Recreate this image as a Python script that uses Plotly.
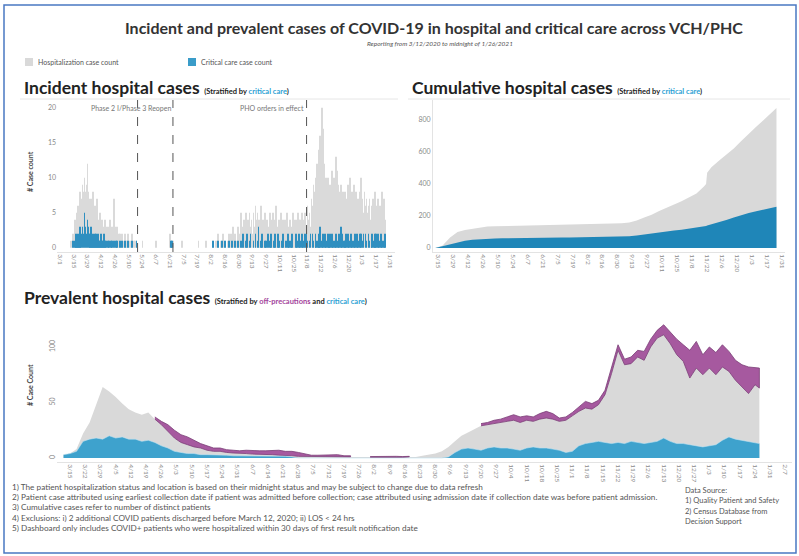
import pandas as pd
import plotly.graph_objects as go

W, H = 799, 556
def px(x): return x / W
def py(y): return 1 - y / H

# ---------------- DATA ----------------
# Incident hospital cases, daily 2020-03-12 .. 2021-01-26
inc_hosp_mar = [1,0,2,1,4,3,5,6,4,8,6,7,9,8,10,8,9,12,8,7]
inc_hosp_apr = [6,7,5,8,4,6,5,7,4,3,5,2,4,3,2,4,3,2,3,2,4,2,3,2,7,3,2,3,1,2]
inc_hosp_may = [2,1,2,1,0,2,1,1,2,1,0,1,2,0,1,1,0,1,0,0,0,0,0,1,0,0,0,0,0,0,0]
inc_hosp_jun = [0,0,0,0,0,0,1,0,0,0,0,0,0,0,0,0,0,0,0,0,2,1,0,1,0,0,0,0,0,0]
inc_hosp_jul = [0,0,1,0,0,0,0,0,0,0,0,0,0,0,0,0,0,0,0,1,0,0,0,0,0,0,0,1,0,0,0]
inc_hosp_aug = [0,0,0,1,0,0,1,0,2,0,0,1,0,2,0,1,0,0,1,2,0,2,0,3,0,2,0,1,3,2,0]
inc_hosp_sep = [5,3,2,4,3,5,2,4,3,5,3,4,2,5,3,6,4,5,3,4,2,6,3,4,3,5,2,4,3,2]
inc_hosp_oct = [5,4,2,5,3,4,6,3,2,4,3,5,2,4,3,4,3,5,2,3,4,2,3,5,4,2,4,3,5,4,4]
inc_hosp_nov = [3,5,4,3,5,4,3,6,4,5,3,7,6,9,8,10,9,12,11,14,16,15,20,17,12,9,10,8,10,7]
inc_hosp_dec = [9,8,11,9,10,8,13,11,9,8,7,9,6,8,7,8,6,7,9,7,10,6,8,7,9,6,8,5,7,6,8]
inc_hosp_jan = [10,6,7,5,8,6,7,5,6,7,4,6,5,7,5,8,6,4,7,5,6,4,8,5,7,4]

inc_crit_mar = [0,0,1,0,1,2,1,2,1,3,2,2,3,2,5,3,2,4,3,2]
inc_crit_apr = [2,3,1,2,1,2,2,1,2,1,1,2,1,1,2,1,1,0,1,1,0,1,1,0,1,0,1,1,0,0]
inc_crit_may = [1,0,1,0,0,1,0,0,1,0,0,0,1,0,0,0,0,1,0,0,0,0,0,0,0,0,0,0,0,0,0]
inc_crit_jun = [0,0,0,0,0,0,0,0,0,0,0,0,0,0,0,0,0,0,0,0,0,1,1,0,0,0,0,0,0,0]
inc_crit_jul = [0,0,0,0,0,0,0,0,0,0,0,0,0,0,0,0,0,0,0,0,0,0,0,0,0,0,0,0,0,0,0]
inc_crit_aug = [0,0,0,1,0,0,0,0,1,0,0,0,1,0,0,1,0,0,0,1,0,0,1,0,0,1,0,0,1,0,0]
inc_crit_sep = [1,0,2,0,0,1,2,0,0,1,2,0,0,1,0,2,0,1,3,0,0,1,2,0,0,1,1,0,2,0]
inc_crit_oct = [1,2,0,0,1,2,0,0,2,1,0,0,1,2,0,0,1,0,2,1,0,1,2,0,0,0,2,1,0,2,1]
inc_crit_nov = [0,2,1,0,2,0,2,1,0,1,2,0,2,1,0,2,1,0,1,2,3,0,1,2,0,2,1,0,2,1]
inc_crit_dec = [2,0,2,1,0,1,2,0,1,2,0,3,2,0,1,1,2,0,2,1,0,2,1,0,1,2,0,2,1,0,2]
inc_crit_jan = [2,0,1,2,0,2,1,0,2,1,0,1,2,0,1,2,2,0,2,1,0,2,1,0,1,2]

inc_hosp = (inc_hosp_mar + inc_hosp_apr + inc_hosp_may + inc_hosp_jun + inc_hosp_jul + inc_hosp_aug
            + inc_hosp_sep + inc_hosp_oct + inc_hosp_nov + inc_hosp_dec + inc_hosp_jan)
inc_crit = (inc_crit_mar + inc_crit_apr + inc_crit_may + inc_crit_jun + inc_crit_jul + inc_crit_aug
            + inc_crit_sep + inc_crit_oct + inc_crit_nov + inc_crit_dec + inc_crit_jan)
inc_dates = pd.date_range("2020-03-12", periods=len(inc_hosp), freq="D")

# Cumulative hospital cases
cum_dates = ["2020-03-12","2020-03-19","2020-03-26","2020-04-02","2020-04-09","2020-04-16","2020-04-23",
             "2020-04-30","2020-05-07","2020-05-14","2020-05-21","2020-05-28","2020-06-04","2020-06-11",
             "2020-06-18","2020-06-25","2020-07-02","2020-07-09","2020-07-16","2020-07-23","2020-07-30",
             "2020-08-06","2020-08-13","2020-08-20","2020-08-27","2020-09-03","2020-09-10","2020-09-17",
             "2020-09-24","2020-10-01","2020-10-08","2020-10-15","2020-10-22","2020-10-29","2020-11-05",
             "2020-11-12","2020-11-19","2020-11-21","2020-11-22","2020-11-26","2020-12-03","2020-12-10",
             "2020-12-17","2020-12-24","2020-12-31","2021-01-07","2021-01-14","2021-01-21","2021-01-26"]
cum_hosp = [0,15,65,100,113,121,128,134,136,137,138,139,139,140,141,142,143,143,144,144,145,
            146,147,149,151,154,160,172,190,208,232,254,272,292,315,340,385,400,470,505,545,582,
            622,668,715,758,800,845,875]
cum_crit = [0,12,22,38,46,52,56,58,60,61,62,62,63,63,64,65,65,65,65,66,66,
            67,67,68,69,70,73,78,85,92,98,104,109,114,120,127,135,138,140,147,160,175,
            190,205,218,230,240,250,258]

# Prevalent hospital cases (every 3 days from 2020-03-12, last point 2021-01-26)
prev_hosp = [3,4,8,22,32,48,64,60,55,49,
             44,41,39,41,35,30,24,18,14,12,
             10,9,7,6,6,5,4.5,4,4,3.5,
             3,3,3,2.5,2,2,1.5,1.5,1,1,
             1,1,1,1,1,0.5,0.5,0.5,0.5,0.5,
             0.5,0.5,0.5,1,1,2,3,4,6,10,
             15,20,23,26,29,30,31,32,33,34,
             32,34,33,35,36,35,33,34,38,42,
             45,44,48,57,76,97,84,85,91,88,
             100,108,111,103,93,87,72,81,75,81,
             75,82,78,70,64,58,66,
             63]
prev_crit = [3,4,6,15,17,18,17,20,18,19,
             17,17,15,16,14,11,9,6,5,4,
             4,3,3,3,2.5,2.5,2,2,2,2,
             2,2,1.5,1.5,1.5,1,0,0,0,0,
             0,0,0,0,0,0,0,0,0,0,
             0,0,0,0,0,0,0,0,0,1,
             5,8,9,8,7,9,10,9,9,8,
             7,9,10,9,9,8,7,5,6,11,
             13,14,15,14,13,14,13,15,14,13,
             14,15,18,15,13,13,12,11,10,11,
             12,16,19,17,16,15,14,
             13]
prev_offprec = [None,None,None,None,None,None,None,None,None,None,
                None,None,None,None,2,3,6,7,7,7,
                6,4,4,3,3,2.5,2.5,2.5,3,3,
                3.5,3.5,4,4.5,4,4,3.5,2.5,1.5,1.5,
                1.5,2,2,1,1,None,None,0.8,1,1,
                1,1,0.8,0.5,None,None,None,None,None,None,
                None,None,None,None,2,2,3,3,4,5,
                5,4,4,5,6,5,3,3,3,4,
                6,5,4,4,5,5,5,6,6,8,
                7,7,9,10,14,15,25,24,18,19,
                20,20,18,18,20,24,15,
                18]
prev_dates = list(pd.date_range("2020-03-12", periods=len(prev_hosp) - 1, freq="3D")) + [pd.Timestamp("2021-01-26")]

phase_lines = ["2020-05-19", "2020-06-24", "2020-11-07"]

inc_ticks = pd.date_range("2020-03-01", "2021-01-31", freq="14D")
cum_ticks = pd.date_range("2020-03-15", "2021-01-31", freq="14D")
prev_ticks = pd.date_range("2020-03-15", "2021-02-07", freq="7D")
def lab(ds): return [f"{d.month}/{d.day}" for d in ds]

# ---------------- COLOURS ----------------
GRAY = "#d9d9d9"
BLUE = "#1f86b8"
BLUE_L = "#3ea2cd"
PURPLE = "#a6599f"
PURPLE_D = "#7a3d76"
TICK = "#8a8a8a"
FONT = "Lato"

fig = go.Figure()

# Incident bars
fig.add_trace(go.Bar(x=inc_dates, y=inc_hosp, marker=dict(color="#dadada", line=dict(width=0)),
                     xaxis="x", yaxis="y", showlegend=False))
fig.add_trace(go.Bar(x=inc_dates, y=inc_crit, marker=dict(color="#2f8fc0", line=dict(width=0)),
                     xaxis="x", yaxis="y", showlegend=False))

# Cumulative areas
fig.add_trace(go.Scatter(x=cum_dates, y=cum_hosp, mode="lines", fill="tozeroy", fillcolor=GRAY,
                         line=dict(width=0, color=GRAY), xaxis="x2", yaxis="y2", showlegend=False))
fig.add_trace(go.Scatter(x=cum_dates, y=cum_crit, mode="lines", fill="tozeroy", fillcolor=BLUE,
                         line=dict(width=0, color=BLUE), xaxis="x2", yaxis="y2", showlegend=False))

# Prevalent areas
fig.add_trace(go.Scatter(x=prev_dates, y=prev_hosp, mode="lines", fill="tozeroy", fillcolor=GRAY,
                         line=dict(width=0, color=GRAY), xaxis="x3", yaxis="y3", showlegend=False))
# off-precautions band drawn on top of the hospital area, one polygon per contiguous run
runs, cur = [], []
for i, v in enumerate(prev_offprec):
    if v is None:
        if cur: runs.append(cur); cur = []
    else:
        cur.append(i)
if cur: runs.append(cur)
for r in runs:
    xs = [prev_dates[i] for i in r] + [prev_dates[i] for i in reversed(r)]
    ys = [prev_hosp[i] + prev_offprec[i] for i in r] + [prev_hosp[i] for i in reversed(r)]
    fig.add_trace(go.Scatter(x=xs, y=ys, mode="lines", fill="toself", fillcolor=PURPLE,
                             line=dict(width=0.8, color=PURPLE_D), xaxis="x3", yaxis="y3", showlegend=False))
fig.add_trace(go.Scatter(x=prev_dates, y=prev_crit, mode="lines", fill="tozeroy", fillcolor=BLUE_L,
                         line=dict(width=0.6, color="#bfe3f2"), xaxis="x3", yaxis="y3", showlegend=False))

tickfont = dict(family=FONT, size=6.5, color=TICK)
common_x = dict(type="date", showgrid=False, zeroline=False, showline=True, linecolor="#e3e3e3",
                linewidth=1, ticks="", tickangle=90, tickfont=tickfont)
common_y = dict(showgrid=False, zeroline=False, ticks="", tickfont=dict(family=FONT, size=7, color=TICK))

fig.update_layout(
    width=W, height=H, margin=dict(l=0, r=0, t=0, b=0), autosize=False,
    paper_bgcolor="white", plot_bgcolor="white", barmode="overlay", bargap=0.15,
    font=dict(family=FONT, color="#333"),
    xaxis=dict(common_x, domain=[px(57), px(395)], anchor="y", range=["2020-02-27", "2021-02-05"],
               tickvals=list(inc_ticks), ticktext=lab(inc_ticks)),
    yaxis=dict(common_y, domain=[py(252), py(100)], anchor="x", range=[-0.6, 21.1],
               tickvals=[0, 5, 10, 15, 20]),
    xaxis2=dict(common_x, domain=[px(433), px(785)], anchor="y2", range=["2020-03-10", "2021-02-03"],
                tickvals=list(cum_ticks), ticktext=lab(cum_ticks)),
    yaxis2=dict(common_y, domain=[py(252), py(100)], anchor="x2", range=[-25, 925],
                tickvals=[0, 200, 400, 600, 800], showline=True, linecolor="#e3e3e3"),
    xaxis3=dict(common_x, domain=[px(57), px(792)], anchor="y3", range=["2020-03-09", "2021-02-10"],
                tickvals=list(prev_ticks), ticktext=lab(prev_ticks)),
    yaxis3=dict(common_y, domain=[py(462), py(315)], anchor="x3", range=[-3.6, 128.8],
                tickvals=[0, 50, 100], tickangle=-90),
)

shapes = []
for d in phase_lines:
    shapes.append(dict(type="line", xref="x", yref="y domain", x0=d, x1=d, y0=0, y1=1,
                       line=dict(color="#555", width=1, dash="dash")))
# panel header rules
shapes.append(dict(type="line", xref="paper", yref="paper", x0=px(20), x1=px(398), y0=py(99), y1=py(99),
                   line=dict(color="#e6e6e6", width=1)))
shapes.append(dict(type="line", xref="paper", yref="paper", x0=px(408), x1=px(790), y0=py(99), y1=py(99),
                   line=dict(color="#e6e6e6", width=1)))
# legend swatches
shapes.append(dict(type="rect", xref="paper", yref="paper", x0=px(25), x1=px(33), y0=py(66), y1=py(58),
                   fillcolor="#d9d9d9", line=dict(width=0)))
shapes.append(dict(type="rect", xref="paper", yref="paper", x0=px(188), x1=px(196), y0=py(66), y1=py(58),
                   fillcolor="#3a9cc9", line=dict(width=0)))
# outer frame
shapes.append(dict(type="rect", xref="paper", yref="paper", x0=px(4), x1=px(796), y0=py(553), y1=py(5),
                   line=dict(color="#4a78c2", width=1.5)))
fig.update_layout(shapes=shapes)

def ann(x, y, text, size, color="#333", xanchor="left", yanchor="middle", angle=0, **kw):
    fig.add_annotation(x=px(x), y=py(y), xref="paper", yref="paper", text=text, showarrow=False,
                       xanchor=xanchor, yanchor=yanchor, textangle=angle,
                       font=dict(family=FONT, size=size, color=color), **kw)

CC = "#2b9fd4"
ann(434, 27, "<b>Incident and prevalent cases of COVID-19 in hospital and critical care across VCH/PHC</b>",
    16, "#333", xanchor="center")
ann(440, 44, "<i>Reporting from 3/12/2020 to midnight of 1/26/2021</i>", 6.5, "#555", xanchor="center")
ann(36, 62, "Hospitalization case count", 7, "#555")
ann(199, 62, "Critical care case count", 7, "#555")

ann(22, 87, "<b>Incident hospital cases</b> <span style='font-size:7.5px'><b>(Stratified by "
    f"<span style='color:{CC}'>critical care</span>)</b></span>", 17.5, "#222")
ann(410, 87, "<b>Cumulative hospital cases</b> <span style='font-size:7.5px'><b>(Stratified by "
    f"<span style='color:{CC}'>critical care</span>)</b></span>", 17.5, "#222")
ann(22, 297, "<b>Prevalent hospital cases</b> <span style='font-size:7.5px'><b>(Stratified by "
    f"<span style='color:#a3439b'>off-precautions</span> and "
    f"<span style='color:{CC}'>critical care</span>)</b></span>", 17.5, "#222")

ann(30, 172, "<b># Case count</b>", 7, "#444", xanchor="center", angle=-90)
ann(30, 385, "<b># Case Count</b>", 7, "#444", xanchor="center", angle=-90)

ann(173, 108, "Phase 2 I/Phase 3 Reopen", 7, "#777", xanchor="right")
ann(306, 108, "PHO orders in effect", 7, "#777", xanchor="right")

foot = [
    "1) The patient hospitalization status and location is based on their midnight status and may be subject to change due to data refresh",
    "2) Patient case attributed using earliest collection date if patient was admitted before collection; case attributed using admission date if collection date was before patient admission.",
    "3) Cumulative cases refer to number of distinct patients",
    "4) Exclusions: i) 2 additional COVID patients discharged before March 12, 2020; ii) LOS < 24 hrs",
    "5) Dashboard only includes COVID+ patients who were hospitalized within 30 days of first result notification date",
]
for i, t in enumerate(foot):
    ann(10, 487 + i * 10.2, t, 8.2, "#555")
src = ["Data Source:", "1) Quality Patient and Safety", "2) Census Database from", "Decision Support"]
for i, t in enumerate(src):
    ann(683, 490 + i * 10.6, t, 7.5, "#555")

fig.write_html("out.html", config={"displayModeBar": False},
               post_script="document.body.style.margin='0';document.body.style.overflow='hidden';")
